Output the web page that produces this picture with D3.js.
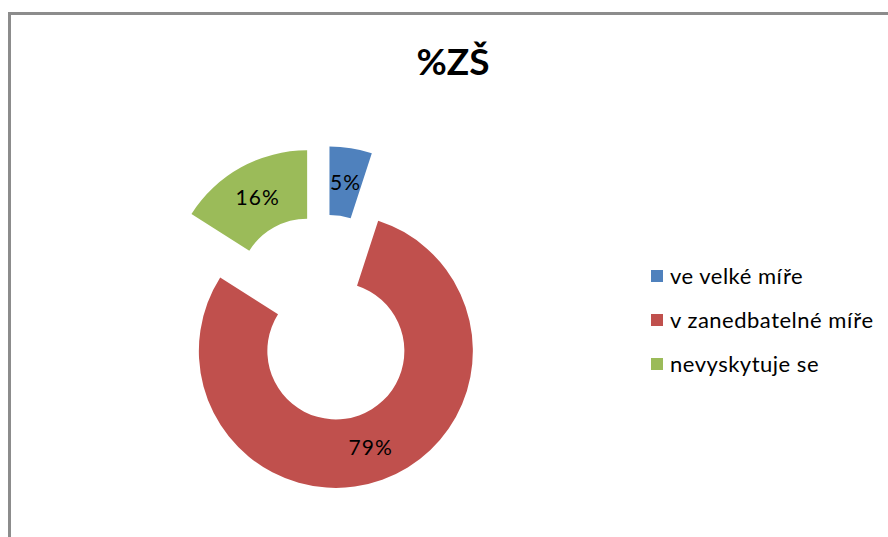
<!DOCTYPE html>
<html>
<head>
<meta charset="utf-8">
<script src="https://cdn.jsdelivr.net/npm/d3@7"></script>
<style>
  body { margin: 0; background: #fff; }
  svg { display: block; }
</style>
</head>
<body>
<div id="chart"></div>
<script>
// chart data
var title = "%ZŠ";
var categories = ["ve velké míře", "v zanedbatelné míře", "nevyskytuje se"];
var values = [5, 79, 16];
var colours = ["#4F81BD", "#C0504D", "#9BBB59"];

var width = 888, height = 537;
var fontFamily = "Lato, 'Open Sans', sans-serif";

var svg = d3.select("#chart").append("svg")
    .attr("width", width)
    .attr("height", height);

// chart frame (only top and left edges are visible in the crop)
svg.append("path")
    .attr("d", "M9.5,537 L9.5,13.5 L888,13.5")
    .attr("fill", "none")
    .attr("stroke", "#8c8c8c")
    .attr("stroke-width", 3);

svg.append("text")
    .attr("x", 453)
    .attr("y", 75)
    .attr("text-anchor", "middle")
    .style("font-family", fontFamily)
    .style("font-weight", "bold")
    .style("font-size", "37px")
    .text(title);

// doughnut
var outerR = 137, innerR = 68.5, explode = 35;
var centre = [324, 318];

var arcsLayout = d3.pie()
    .value(function (d) { return d.value; })
    .sort(null)
    (values.map(function (v, i) { return { key: categories[i], value: v }; }));

var arcShapeGenerator = d3.arc()
    .innerRadius(innerR)
    .outerRadius(outerR);

var grp = svg.append("g")
    .attr("transform", "translate(" + centre + ")");

var slices = grp.selectAll("g.slice")
    .data(arcsLayout)
    .enter()
    .append("g")
    .attr("class", "slice")
    .attr("transform", function (d) {
        var a = (d.startAngle + d.endAngle) / 2;
        return "translate(" + [explode * Math.sin(a), -explode * Math.cos(a)] + ")";
    });

slices.append("path")
    .attr("d", arcShapeGenerator)
    .attr("fill", function (d, i) { return colours[i]; });

slices.append("text")
    .attr("transform", function (d) { return "translate(" + arcShapeGenerator.centroid(d) + ")"; })
    .attr("text-anchor", "middle")
    .attr("dy", "0.36em")
    .style("font-family", fontFamily)
    .style("font-size", "21px")
    .style("letter-spacing", "1px")
    .style("fill", "#000")
    .text(function (d) { return d.value + "%"; });

// legend
var legendY = d3.scalePoint()
    .domain(categories)
    .range([276, 364]);

var legend = svg.selectAll("g.legend")
    .data(categories)
    .enter()
    .append("g")
    .attr("class", "legend")
    .attr("transform", function (d) { return "translate(651," + legendY(d) + ")"; });

legend.append("rect")
    .attr("x", 0)
    .attr("y", -6)
    .attr("width", 12)
    .attr("height", 12)
    .attr("fill", function (d, i) { return colours[i]; });

legend.append("text")
    .attr("x", 19)
    .attr("dy", "0.36em")
    .style("font-family", fontFamily)
    .style("font-size", "22px")
    .style("letter-spacing", "0.5px")
    .style("fill", "#000")
    .text(function (d) { return d; });
</script>
</body>
</html>
